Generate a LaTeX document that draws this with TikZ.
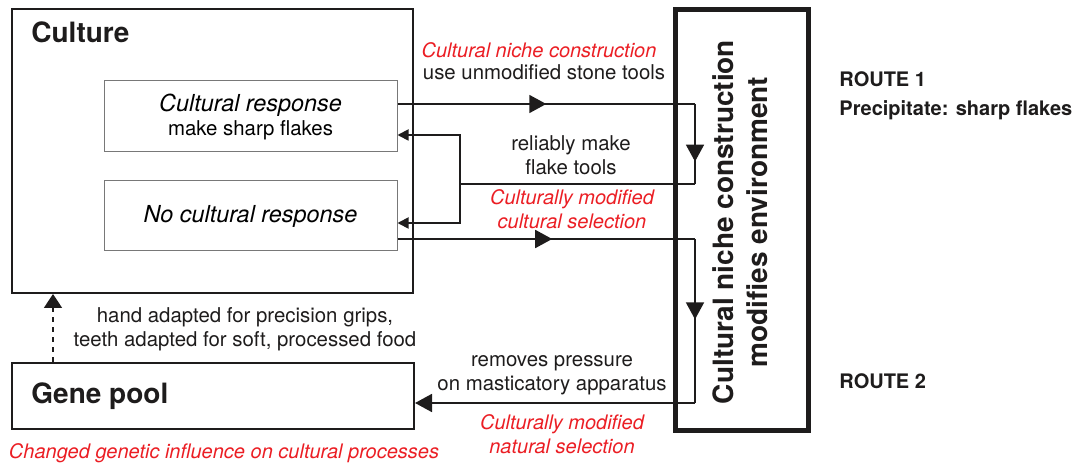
\documentclass[tikz,border=0pt]{standalone}
\usepackage{fontspec}
\setmainfont{TeX Gyre Heros}
\usepackage{tikz}
\usetikzlibrary{arrows.meta, positioning, calc, decorations.markings}
\definecolor{mydark}{RGB}{30,28,28}
\definecolor{myred}{RGB}{235,30,36}
\definecolor{mygrey}{RGB}{120,120,120}
\tikzset{
  outerbox/.style={rectangle, draw=mydark, line width=1pt, inner sep=0pt},
  innerbox/.style={rectangle, draw=mygrey, line width=0.5pt, inner sep=0pt,
    minimum width=146.5pt, minimum height=35.5pt, align=center},
  envbox/.style={rectangle, draw=mydark, line width=2.5pt, inner sep=0pt,
    minimum width=66.5pt, minimum height=210.5pt},
  title/.style={font=\fontsize{14}{16}\selectfont\bfseries, anchor=base west,
    inner sep=0pt, text=mydark},
  lbl/.style={font=\fontsize{10.2}{12}\selectfont, align=center,
    inner sep=0pt, text=mydark},
  redlbl/.style={lbl, font=\fontsize{10}{12}\selectfont\itshape, text=myred},
  route/.style={font=\fontsize{10}{12}\selectfont\bfseries, anchor=base west,
    inner sep=0pt, text=mydark},
  line/.style={line width=0.9pt, color=mydark},
  arrow/.style={line, -{Triangle[length=8.5pt,width=9pt]}},
  smallarrow/.style={line, -{Triangle[length=5.5pt,width=5.5pt]}},
  dasharrow/.style={line, dash pattern=on 2.5pt off 2.5pt,
    -{Triangle[length=7pt,width=9pt]}},
  midarrow/.style={line, postaction={decorate}, decoration={markings,
    mark=at position #1 with {\arrow{Triangle[length=8.5pt,width=9pt]}}}}
}

\begin{document}
\begin{tikzpicture}[x=0.5pt, y=-0.5pt]
  \useasboundingbox (0,0) rectangle (1075,464);
  % boxes
  \node[outerbox, minimum width=200.5pt, minimum height=142pt] (culture) at (212.5,151) {};
  \node[outerbox, minimum width=201pt, minimum height=33pt] (gene) at (213,396) {};
  \node[innerbox] (cr) at (250.5,116.5)
    {{\fontsize{11.7}{10.5}\selectfont\itshape Cultural response}\\
     {\fontsize{10.2}{10.5}\selectfont make sharp flakes}};
  \node[innerbox, minimum height=35pt, font=\fontsize{11.7}{14}\selectfont\itshape] (nr) at (250.5,216)
    {No cultural response};
  \node[envbox] (env) at (742,220) {};
  \node[rotate=90, align=center, text=mydark,
    font=\fontsize{14}{17}\selectfont\bfseries] (envtext) at (740,222)
    {Cultural niche construction\\modifies environment};
  \node[title] (culturetitle) at (31,43) {Culture};
  \node[title] (genetitle) at (31,403) {Gene pool};
  \node[route] (route1) at (839,87) {ROUTE 1};
  \node[route] (precip) at (839,116) {Precipitate: sharp flakes};
  \node[route] (route2) at (839,388) {ROUTE 2};
  % connector corners
  \coordinate (ra) at (695,104);
  \coordinate (rb) at (695,184);
  \coordinate (jn) at (460,184);
  \coordinate (up) at (460,135);
  \coordinate (dn) at (460,223);
  \coordinate (rc) at (695,239);
  \coordinate (rd) at (695,403);
  \coordinate (gx) at (53,330);
  % route 1
  \draw[midarrow=0.5] (cr.east |- ra) -- (ra);
  \draw[midarrow=0.72] (ra) -- (rb);
  \draw[line] (rb) -- (jn);
  \draw[smallarrow] (jn) |- (cr.east |- up);
  \draw[smallarrow] (jn) |- (nr.east |- dn);
  % route 2
  \draw[midarrow=0.52] (nr.east |- rc) -- (rc);
  \draw[midarrow=0.49] (rc) -- (rd);
  \draw[arrow] (rd) -- (gene.east |- rd);
  \draw[dasharrow] (gene.north -| gx) -- (culture.south -| gx);
  % labels
  \node[redlbl, anchor=base] (cnc) at (539,58) {Cultural niche construction};
  \node[lbl, anchor=base] (unmod) at (544,80) {use unmodified stone tools};
  \node[lbl] (flake) at (571,155) {reliably make\\flake tools};
  \node[redlbl] (cmcs) at (572,209) {Culturally modified\\cultural selection};
  \node[lbl] (remove) at (552,375) {removes pressure\\on masticatory apparatus};
  \node[redlbl] (cmns) at (562,434) {Culturally modified\\natural selection};
  \node[lbl] (adapt) at (245,329) {hand adapted for precision grips,\\teeth adapted for soft, processed food};
  \node[redlbl, anchor=base] (changed) at (224,458) {Changed genetic influence on cultural processes};
\end{tikzpicture}
\end{document}
